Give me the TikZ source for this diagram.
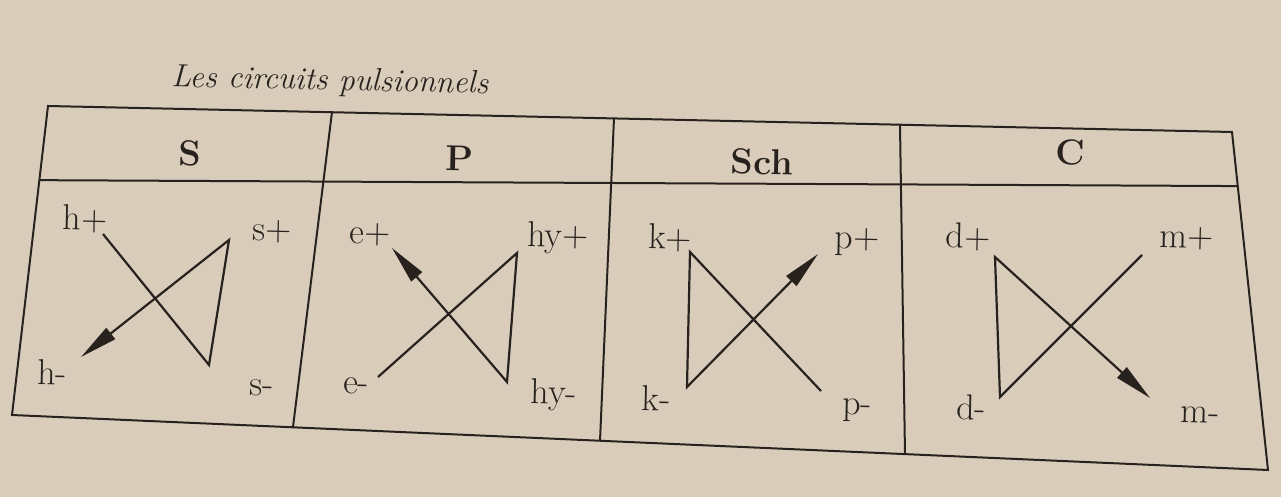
\documentclass[tikz,border=0pt]{standalone}
\usepackage{tikz}
\usetikzlibrary{arrows.meta, calc}

\definecolor{paper}{RGB}{218,204,186}
\definecolor{ink}{RGB}{40,34,30}

\begin{document}
\begin{tikzpicture}[
  x=0.5pt, y=-0.5pt,
  frame/.style={draw=ink, line width=1pt},
  lbl/.style={text=ink, font=\fontsize{18}{21}\selectfont, inner sep=0pt, rotate=-1.2},
  head/.style={text=ink, font=\fontsize{18}{21}\selectfont\bfseries, inner sep=0pt, rotate=-1.2},
  wire/.style={draw=ink, line width=1.1pt},
  arr/.style={wire, -{Triangle[length=19pt, width=7pt]}}
]

\fill[paper] (0,0) rectangle (1281,497);
\useasboundingbox (0,0) rectangle (1281,497);

\node[lbl, font=\fontsize{16}{20}\selectfont\itshape] (title) at (330,82) {Les circuits pulsionnels};

% table frame (photo is a bit skewed)
\coordinate (tl) at (48,106);
\coordinate (tr) at (1232,132);
\coordinate (bl) at (12,415);
\coordinate (br) at (1268,470);
\coordinate (hl) at ($(tl)!0.24!(bl)$);
\coordinate (hr) at ($(tr)!0.16!(br)$);

\draw[frame] (tl) -- (tr) -- (br) -- (bl) -- cycle;
\draw[frame] (hl) -- (hr);
\draw[frame] (332,112) -- (293,427);
\draw[frame] (614,118) -- (600,441);
\draw[frame] (900,125) -- (905,454);

\node[head] (hS)   at (190,153) {S};
\node[head] (hP)   at (460,158) {P};
\node[head] (hSch) at (762,162) {Sch};
\node[head] (hC)   at (1070,152) {C};

% S
\node[lbl] (hp) at (85,219)  {h+};
\node[lbl] (sp) at (272,232) {s+};
\node[lbl] (hm) at (52,372)  {h-};
\node[lbl] (sm) at (262,388) {s-};
\coordinate (s1) at (103,234);
\coordinate (s2) at (209,365);
\coordinate (s3) at (229,240);
\coordinate (s4) at (81,357);
\draw[arr] (s1) -- (s2) -- (s3) -- (s4);

% P
\node[lbl] (ep)  at (370,235) {e+};
\node[lbl] (hyp) at (558,238) {hy+};
\node[lbl] (em)  at (356,386) {e-};
\node[lbl] (hym) at (554,395) {hy-};
\coordinate (p1) at (378,377);
\coordinate (p2) at (517,253);
\coordinate (p3) at (507,382);
\coordinate (p4) at (392,248);
\draw[arr] (p1) -- (p2) -- (p3) -- (p4);

% Sch
\node[lbl] (kp) at (670,238) {k+};
\node[lbl] (pp) at (857,242) {p+};
\node[lbl] (km) at (656,398) {k-};
\node[lbl] (pm) at (857,410) {p-};
\coordinate (c1) at (821,391);
\coordinate (c2) at (690,252);
\coordinate (c3) at (687,387);
\coordinate (c4) at (818,254);
\draw[arr] (c1) -- (c2) -- (c3) -- (c4);

% C
\node[lbl] (dp) at (968,237)  {d+};
\node[lbl] (mp) at (1187,239) {m+};
\node[lbl] (dm) at (971,407)  {d-};
\node[lbl] (mm) at (1200,415) {m-};
\coordinate (d1) at (1142,255);
\coordinate (d2) at (1000,397);
\coordinate (d3) at (995,257);
\coordinate (d4) at (1150,398);
\draw[arr] (d1) -- (d2) -- (d3) -- (d4);

\end{tikzpicture}
\end{document}
